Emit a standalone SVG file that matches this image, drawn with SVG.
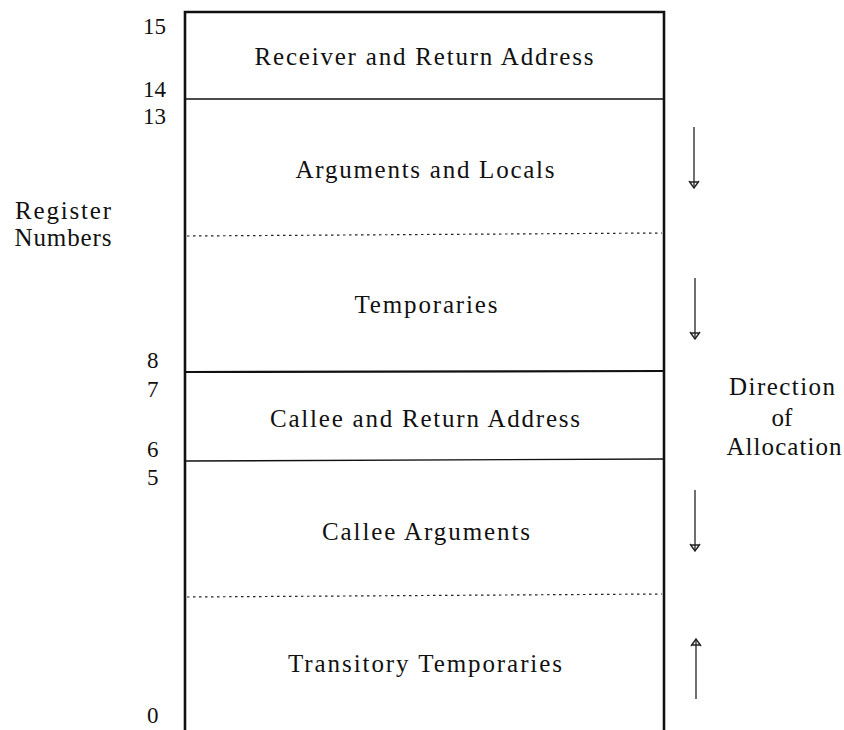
<svg xmlns="http://www.w3.org/2000/svg" width="844" height="730" viewBox="0 0 844 730">
<defs>
<style>
text{font-family:"Liberation Serif","DejaVu Serif",serif;font-size:23px;fill:#111}
.l{font-size:25px}
.c{text-anchor:middle}
.b{stroke:#111;fill:none}
.dot{stroke:#222;stroke-width:1.2;stroke-dasharray:2.5 3.5;fill:none}
.arr{stroke:#222;stroke-width:1.3;fill:none;marker-end:url(#ah)}
</style>
<marker id="ah" viewBox="0 0 12 12" refX="11" refY="6" markerWidth="12" markerHeight="12" markerUnits="userSpaceOnUse" orient="auto">
<path d="M4,1 L11,6 L4,11 M5,1.5 L5,10.5" stroke="#222" stroke-width="1.4" fill="none"/>
</marker>
</defs>
<g id="frame">
<path class="b" d="M185,730 V12 H664 V730" stroke-width="2.6"/>
<line class="b" x1="185" y1="99" x2="664" y2="99" stroke-width="1.4"/>
<line class="dot" x1="187" y1="236" x2="662" y2="233"/>
<line class="b" x1="185" y1="372" x2="664" y2="371" stroke-width="2.2"/>
<line class="b" x1="185" y1="461" x2="664" y2="459" stroke-width="1.4"/>
<line class="dot" x1="187" y1="597" x2="662" y2="594"/>
</g>
<g id="labels-numbers">
<text x="143" y="34">15</text>
<text x="143" y="97">14</text>
<text x="143" y="124">13</text>
<text x="147" y="368">8</text>
<text x="147" y="397">7</text>
<text x="147" y="457">6</text>
<text x="147" y="485">5</text>
<text x="147" y="723">0</text>
</g>
<g id="n-receiver"><text class="c l" x="424" y="65" textLength="339" lengthAdjust="spacing">Receiver and Return Address</text></g>
<g id="n-args"><text class="c l" x="425" y="178" textLength="259" lengthAdjust="spacing">Arguments and Locals</text></g>
<g id="n-temps"><text class="c l" x="426" y="313" textLength="143" lengthAdjust="spacing">Temporaries</text></g>
<g id="n-callee"><text class="c l" x="425" y="427" textLength="310" lengthAdjust="spacing">Callee and Return Address</text></g>
<g id="n-calleeargs"><text class="c l" x="426" y="540" textLength="208" lengthAdjust="spacing">Callee Arguments</text></g>
<g id="n-transitory"><text class="c l" x="425" y="672" textLength="274" lengthAdjust="spacing">Transitory Temporaries</text></g>
<g id="register-numbers">
<text class="c l" x="63" y="219" textLength="96" lengthAdjust="spacing">Register</text>
<text class="c l" x="63" y="246" textLength="97" lengthAdjust="spacing">Numbers</text>
</g>
<g id="direction">
<text class="c l" x="782" y="395" textLength="106" lengthAdjust="spacing">Direction</text>
<text class="c l" x="782" y="426">of</text>
<text class="c l" x="784" y="455" textLength="115" lengthAdjust="spacing">Allocation</text>
</g>
<g id="connectors">
<line class="arr" x1="694" y1="127" x2="694" y2="188"/>
<line class="arr" x1="695" y1="278" x2="695" y2="339"/>
<line class="arr" x1="695" y1="490" x2="695" y2="551"/>
<line class="arr" x1="696" y1="699" x2="696" y2="639"/>
</g>
</svg>
